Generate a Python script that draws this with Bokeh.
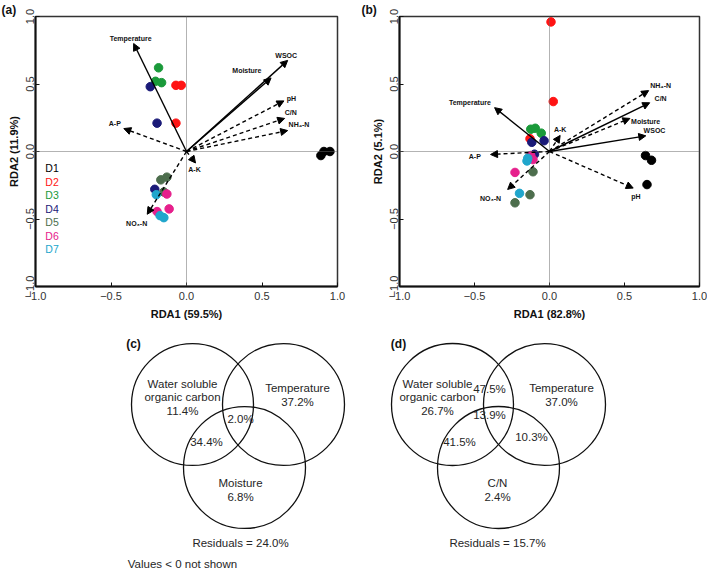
from bokeh.plotting import figure
from bokeh.layouts import column, row
from bokeh.models import (ColumnDataSource, Arrow, NormalHead, Range1d,
                          Span, FixedTicker, CustomJSTickFormatter)
from bokeh.embed import file_html
from bokeh.resources import INLINE
from bokeh.core.properties import value

FONT = "Liberation Sans"

# ---------------- data ----------------
groups = ["D1", "D2", "D3", "D4", "D5", "D6", "D7"]
group_colors = ["#000000", "#ff1414", "#1a9a3a", "#1a1a78", "#4d6e4d", "#e6208c", "#20a6cc"]

# (a) sample scores
a_group = ["D1"] * 3 + ["D2"] * 3 + ["D3"] * 3 + ["D4"] * 3 + ["D5"] * 3 + ["D6"] * 3 + ["D7"] * 3
a_rda1 = [0.89, 0.91, 0.95,
          -0.07, -0.035, -0.07,
          -0.185, -0.205, -0.165,
          -0.24, -0.195, -0.21,
          -0.17, -0.13, -0.15,
          -0.13, -0.195, -0.115,
          -0.20, -0.175, -0.15]
a_rda2 = [-0.03, 0.0, 0.0,
          0.49, 0.49, 0.21,
          0.62, 0.52, 0.51,
          0.48, 0.21, -0.28,
          -0.21, -0.19, -0.30,
          -0.315, -0.445, -0.425,
          -0.32, -0.475, -0.49]

# (a) environmental vectors
a_vars = ["Temperature", "WSOC", "Moisture", "pH", "C/N", "NH\u2084-N", "A-P", "A-K", "NO\u2083-N"]
a_var_rda1 = [-0.35, 0.67, 0.56, 0.645, 0.65, 0.67, -0.415, 0.06, -0.26]
a_var_rda2 = [0.80, 0.675, 0.545, 0.375, 0.245, 0.155, 0.17, -0.085, -0.465]
a_var_dashed = [False, False, False, True, True, True, True, True, True]

# (b) sample scores
b_group = a_group
b_rda1 = [0.64, 0.68, 0.65,
          0.01, 0.025, -0.13,
          -0.125, -0.095, -0.055,
          -0.118, -0.036, -0.10,
          -0.11, -0.13, -0.23,
          -0.125, -0.11, -0.23,
          -0.145, -0.20, -0.15]
b_rda2 = [-0.03, -0.065, -0.245,
          0.96, 0.37, 0.095,
          0.165, 0.172, 0.136,
          0.068, 0.08, -0.02,
          -0.15, -0.32, -0.38,
          -0.03, -0.06, -0.155,
          -0.05, -0.31, -0.07]

# (b) environmental vectors
b_vars = ["Temperature", "A-P", "A-K", "NH\u2084-N", "C/N", "Moisture", "WSOC", "pH", "NO\u2083-N"]
b_var_rda1 = [-0.366, -0.393, 0.071, 0.661, 0.668, 0.536, 0.642, 0.558, -0.279]
b_var_rda2 = [0.325, -0.022, 0.119, 0.451, 0.361, 0.245, 0.116, -0.271, -0.281]
b_var_dashed = [False, True, True, True, False, True, False, True, True]

a_axis_labels = ("RDA1 (59.5%)", "RDA2 (11.9%)")
b_axis_labels = ("RDA1 (82.8%)", "RDA2 (5.1%)")
rda_ticks = [-1.0, -0.5, 0.0, 0.5, 1.0]

# (c) variation partitioning
c_sets = [["Water soluble", "organic carbon"], ["Temperature"], ["Moisture"]]
c_unique = [11.4, 37.2, 6.8]
c_shared = [2.0, 34.4]          # all three; WSOC & Moisture
c_residual = 24.0

# (d) variation partitioning
d_sets = [["Water soluble", "organic carbon"], ["Temperature"], ["C/N"]]
d_unique = [26.7, 37.0, 2.4]
d_shared = [47.5, 13.9, 41.5, 10.3]  # WSOC&Temp; all three; WSOC&C/N; Temp&C/N
d_residual = 15.7

# ---------------- layout constants (positions / styles) ----------------
a_lab_dx = [-0.02, -0.01, -0.16, 0.05, 0.04, 0.075, -0.06, -0.007, -0.07]
a_lab_dy = [0.04, 0.035, 0.055, 0.015, 0.045, 0.045, 0.04, -0.045, -0.065]
b_lab_dx = [-0.165, -0.105, 0.0, 0.08, 0.073, 0.105, 0.058, 0.018, -0.114]
b_lab_dy = [0.036, -0.012, 0.045, 0.04, 0.03, -0.02, 0.04, -0.06, -0.068]

FRAME_H, BOTTOM_BORDER = 270, 40
VH = 245


def color_of(g):
    return group_colors[groups.index(g)]


def rda_panel(tag, tag_offset, labels, grp, sx, sy, vn, vx, vy, vdash, ldx, ldy,
              left, fw, right, show_legend):
    p = figure(frame_width=fw, frame_height=FRAME_H,
               x_range=Range1d(-1, 1), y_range=Range1d(-1, 1),
               output_backend="svg", toolbar_location=None, title=tag,
               min_border_top=0, min_border_left=left, min_border_right=right,
               min_border_bottom=BOTTOM_BORDER)
    p.title.align = "left"
    p.title.offset = tag_offset
    p.title.standoff = 0
    p.title.text_font = FONT
    p.title.text_font_size = "12px"
    p.title.text_font_style = "bold"
    p.title.text_color = "#111111"
    p.grid.visible = False
    p.outline_line_color = "#333333"
    p.outline_line_width = 1.5
    fmt = CustomJSTickFormatter(code="return (tick < 0 ? '\\u2212' : '') + Math.abs(tick).toFixed(1);")
    for ax in (p.xaxis[0], p.yaxis[0]):
        ax.ticker = FixedTicker(ticks=rda_ticks, minor_ticks=[])
        ax.formatter = fmt
        ax.axis_line_width = 2
        ax.axis_line_color = "#111111"
        ax.major_tick_in = 4
        ax.major_tick_out = 0
        ax.major_tick_line_color = "#111111"
        ax.major_label_text_font = FONT
        ax.major_label_text_font_size = "11px"
        ax.major_label_text_color = "#333333"
        ax.axis_label_text_font = FONT
        ax.axis_label_text_font_size = "11px"
        ax.axis_label_text_font_style = "bold"
        ax.axis_label_text_color = "#111111"
    p.xaxis.axis_label = labels[0]
    p.yaxis.axis_label = labels[1]
    p.xaxis.major_label_standoff = 5
    p.xaxis.axis_label_standoff = 5
    p.yaxis.major_label_orientation = "vertical"
    p.yaxis.major_label_standoff = 2
    p.yaxis.axis_label_standoff = 3

    p.add_layout(Span(location=0, dimension="height", line_color="#666666",
                      line_dash="1 1", line_width=1))
    p.add_layout(Span(location=0, dimension="width", line_color="#666666",
                      line_dash="1 1", line_width=1))

    # vectors
    for dashed in (False, True):
        idx = [i for i in range(len(vn)) if vdash[i] == dashed]
        src = ColumnDataSource(dict(x=[vx[i] for i in idx], y=[vy[i] for i in idx]))
        p.add_layout(Arrow(end=NormalHead(size=7, fill_color="black", line_color="black",
                                          line_width=1),
                           x_start=0, y_start=0, x_end="x", y_end="y", source=src,
                           line_width=1.4, line_color="black",
                           line_dash="4 3" if dashed else "solid"))
    lsrc = ColumnDataSource(dict(x=[vx[i] + ldx[i] for i in range(len(vn))],
                                 y=[vy[i] + ldy[i] for i in range(len(vn))],
                                 t=vn))
    p.text(x="x", y="y", text="t", source=lsrc, text_font=value(FONT),
           text_font_size="7px", text_font_style="bold", text_color="#111111",
           text_align="center", text_baseline="middle")

    # samples
    ssrc = ColumnDataSource(dict(x=sx, y=sy, c=[color_of(g) for g in grp]))
    p.scatter(x="x", y="y", source=ssrc, size=8.5, fill_color="c", line_color="c")

    if show_legend:
        lg = ColumnDataSource(dict(x=[-0.935] * len(groups),
                                   y=[-0.125 - 0.1 * i for i in range(len(groups))],
                                   t=groups, c=group_colors))
        p.text(x="x", y="y", text="t", text_color="c", source=lg, text_font=value(FONT),
               text_font_size="10.5px", text_align="left", text_baseline="middle")
    return p


pa = rda_panel("(a)", -34, a_axis_labels, a_group, a_rda1, a_rda2, a_vars,
               a_var_rda1, a_var_rda2, a_var_dashed, a_lab_dx, a_lab_dy, 35, 302, 22, True)
pb = rda_panel("(b)", -38, b_axis_labels, b_group, b_rda1, b_rda2, b_vars,
               b_var_rda1, b_var_rda2, b_var_dashed, b_lab_dx, b_lab_dy, 40, 300, 8, False)

Y0 = 324


def venn_panel(x0, width, circles, texts, tag_xy, tag):
    p = figure(frame_width=width, frame_height=VH,
               x_range=Range1d(x0, x0 + width), y_range=Range1d(Y0 + VH, Y0),
               output_backend="svg", toolbar_location=None, min_border=0,
               x_axis_location=None, y_axis_location=None)
    p.grid.visible = False
    p.outline_line_color = None
    cs = ColumnDataSource(dict(x=[c[0] for c in circles], y=[c[1] for c in circles]))
    p.circle(x="x", y="y", radius=61, source=cs, fill_color=None, line_color="#111111",
             line_width=1.3)
    ts = ColumnDataSource(dict(x=[t[0] for t in texts], y=[t[1] for t in texts],
                               t=[t[2] for t in texts]))
    p.text(x="x", y="y", text="t", source=ts, text_font=value(FONT), text_font_size="11.5px",
           text_color="#262626", text_align="center", text_baseline="middle")
    p.text(x=[tag_xy[0]], y=[tag_xy[1]], text=[tag], text_font=value(FONT),
           text_font_size="12px", text_font_style="bold", text_color="#111111",
           text_align="center", text_baseline="middle")
    return p


def pct(v):
    return "%.1f%%" % v


c_texts = [
    (182, 381, c_sets[0][0]), (182, 394, c_sets[0][1]), (182, 408, pct(c_unique[0])),
    (297, 385, c_sets[1][0]), (297, 399, pct(c_unique[1])),
    (240, 480, c_sets[2][0]), (240, 494, pct(c_unique[2])),
    (240, 416, pct(c_shared[0])),
    (206, 439, pct(c_shared[1])),
    (240, 540, "Residuals = " + pct(c_residual)),
    (182, 561, "Values < 0 not shown"),
]
pc = venn_panel(0, 359, [(192, 402), (283, 402), (244, 465)], c_texts, (133, 341), "(c)")

d_texts = [
    (437, 381, d_sets[0][0]), (437, 394, d_sets[0][1]), (437, 408, pct(d_unique[0])),
    (561, 385, d_sets[1][0]), (561, 399, pct(d_unique[1])),
    (497, 480, d_sets[2][0]), (497, 494, pct(d_unique[2])),
    (489, 386, pct(d_shared[0])),
    (489, 412, pct(d_shared[1])),
    (459, 439, pct(d_shared[2])),
    (531, 434, pct(d_shared[3])),
    (497, 540, "Residuals = " + pct(d_residual)),
]
pd_ = venn_panel(359, 348, [(452, 402), (544, 402), (498, 465)], d_texts, (398, 341), "(d)")

layout = column(row(pa, pb), row(pc, pd_))
open("out.html", "w").write(file_html(layout, INLINE))
